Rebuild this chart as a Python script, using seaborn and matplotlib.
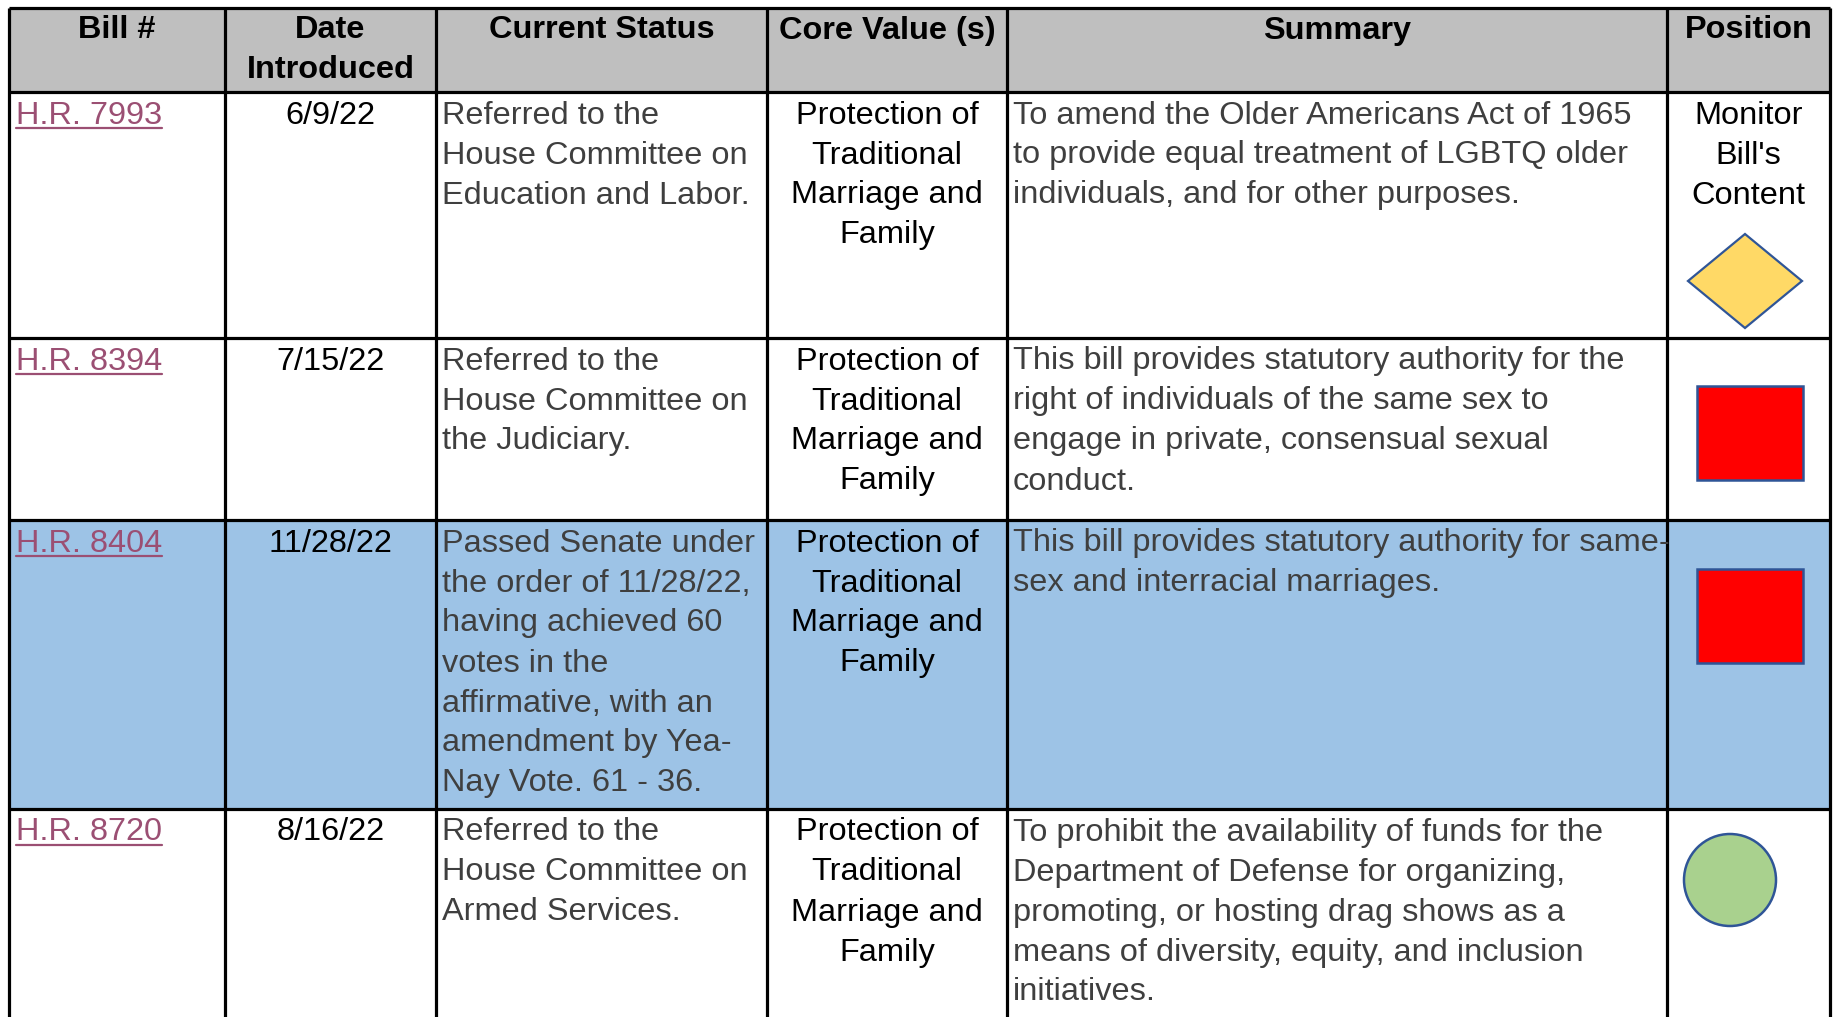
import matplotlib
matplotlib.use("Agg")
import matplotlib.pyplot as plt
import matplotlib.patches as mpatches
import seaborn as sns

sns.set_theme(style="white")
plt.rcParams['font.family'] = ['Liberation Sans', 'DejaVu Sans']

# ---------------- data ----------------
headers = [["Bill #"], ["Date", "Introduced"], ["Current Status"], ["Core Value (s)"], ["Summary"], ["Position"]]
bills = ["H.R. 7993", "H.R. 8394", "H.R. 8404", "H.R. 8720"]
dates = ["6/9/22", "7/15/22", "11/28/22", "8/16/22"]
status = [
    ["Referred to the", "House Committee on", "Education and Labor."],
    ["Referred to the", "House Committee on", "the Judiciary."],
    ["Passed Senate under", "the order of 11/28/22,", "having achieved 60", "votes in the",
     "affirmative, with an", "amendment by Yea-", "Nay Vote. 61 - 36."],
    ["Referred to the", "House Committee on", "Armed Services."],
]
core_values = [["Protection of", "Traditional", "Marriage and", "Family"]] * 4
summaries = [
    ["To amend the Older Americans Act of 1965", "to provide equal treatment of LGBTQ older",
     "individuals, and for other purposes."],
    ["This bill provides statutory authority for the", "right of individuals of the same sex to",
     "engage in private, consensual sexual", "conduct."],
    ["This bill provides statutory authority for same-", "sex and interracial marriages."],
    ["To prohibit the availability of funds for the", "Department of Defense for organizing,",
     "promoting, or hosting drag shows as a", "means of diversity, equity, and inclusion",
     "initiatives."],
]
position_text = [["Monitor", "Bill's", "Content"], [], [], []]
position_shape = ["diamond", "square", "square", "circle"]
highlight = [False, False, True, False]

# ---------------- layout ----------------
W, H = 1836, 1017
col_edges = [9, 225, 436, 767, 1007, 1667, 1830]
row_edges = [8, 92, 338, 520, 809, 1017]
LINE = 40
FS = 23.4

HEADER_BG = "#BFBFBF"
HL_BG = "#9DC3E6"
LINK = "#9B4F73"
GREY = "#3F3F3F"
EDGE = "#2F5597"
shape_colors = {"diamond": "#FFD966", "square": "#FF0000", "circle": "#A9D18E"}

fig = plt.figure(figsize=(W / 100, H / 100), dpi=100)
ax = fig.add_axes([0, 0, 1, 1])
ax.set_xlim(0, W)
ax.set_ylim(H, 0)
ax.axis("off")

# backgrounds
ax.add_patch(mpatches.Rectangle((col_edges[0], row_edges[0]), col_edges[-1] - col_edges[0],
                                row_edges[1] - row_edges[0], color=HEADER_BG, zorder=0))
for i, hl in enumerate(highlight):
    if hl:
        ax.add_patch(mpatches.Rectangle((col_edges[0], row_edges[i + 1]), col_edges[-1] - col_edges[0],
                                        row_edges[i + 2] - row_edges[i + 1], color=HL_BG, zorder=0))

# grid lines
for x in col_edges:
    ax.plot([x, x], [row_edges[0], H], color="black", lw=2.3, zorder=3, solid_capstyle="butt")
for y in row_edges[:-1]:
    ax.plot([col_edges[0], col_edges[-1]], [y, y], color="black", lw=2.3, zorder=3, solid_capstyle="butt")

def centers(c):
    return (col_edges[c] + col_edges[c + 1]) / 2

def put_lines(lines, x, top, ha, color, weight="normal", off=20):
    objs = []
    for k, s in enumerate(lines):
        y = top + off + k * LINE + 11.5
        objs.append(ax.text(x, y, s, ha=ha, va="baseline", fontsize=FS, color=color,
                            fontweight=weight, zorder=4))
    return objs

# header
for c, lines in enumerate(headers):
    put_lines(lines, centers(c), row_edges[0], "center", "black", weight="bold", off=19)

link_texts = []
for i in range(len(bills)):
    top = row_edges[i + 1]
    link_texts += put_lines([bills[i]], col_edges[0] + 7, top, "left", LINK)
    put_lines([dates[i]], centers(1), top, "center", "black")
    put_lines(status[i], col_edges[2] + 6, top, "left", GREY)
    put_lines(core_values[i], centers(3), top, "center", "black")
    put_lines(summaries[i], col_edges[4] + 6, top, "left", GREY)
    put_lines(position_text[i], centers(5), top, "center", "black")

# position shapes
shape_boxes = [(1745, 281, 57, 47), (1750, 433, 53, 47), (1750, 616, 53, 47), (1730, 880, 46, 46)]
for shp, (cx, cy, hw, hh) in zip(position_shape, shape_boxes):
    fc = shape_colors[shp]
    if shp == "diamond":
        p = mpatches.Polygon([(cx, cy - hh), (cx + hw, cy), (cx, cy + hh), (cx - hw, cy)],
                             closed=True, fc=fc, ec=EDGE, lw=1.6, zorder=5)
    elif shp == "square":
        p = mpatches.Rectangle((cx - hw, cy - hh), 2 * hw, 2 * hh, fc=fc, ec=EDGE, lw=1.8, zorder=5)
    else:
        p = mpatches.Ellipse((cx, cy), 2 * hw, 2 * hh, fc=fc, ec=EDGE, lw=1.8, zorder=5)
    ax.add_patch(p)

# underline links
fig.canvas.draw()
r = fig.canvas.get_renderer()
inv = ax.transData.inverted()
for t in link_texts:
    bb = t.get_window_extent(renderer=r)
    x0, _ = inv.transform((bb.x0, 0))
    x1, _ = inv.transform((bb.x1, 0))
    yb = t.get_position()[1] + 4
    ax.plot([x0, x1], [yb, yb], color=LINK, lw=1.6, zorder=4)

fig.savefig("out.png", dpi=100)
